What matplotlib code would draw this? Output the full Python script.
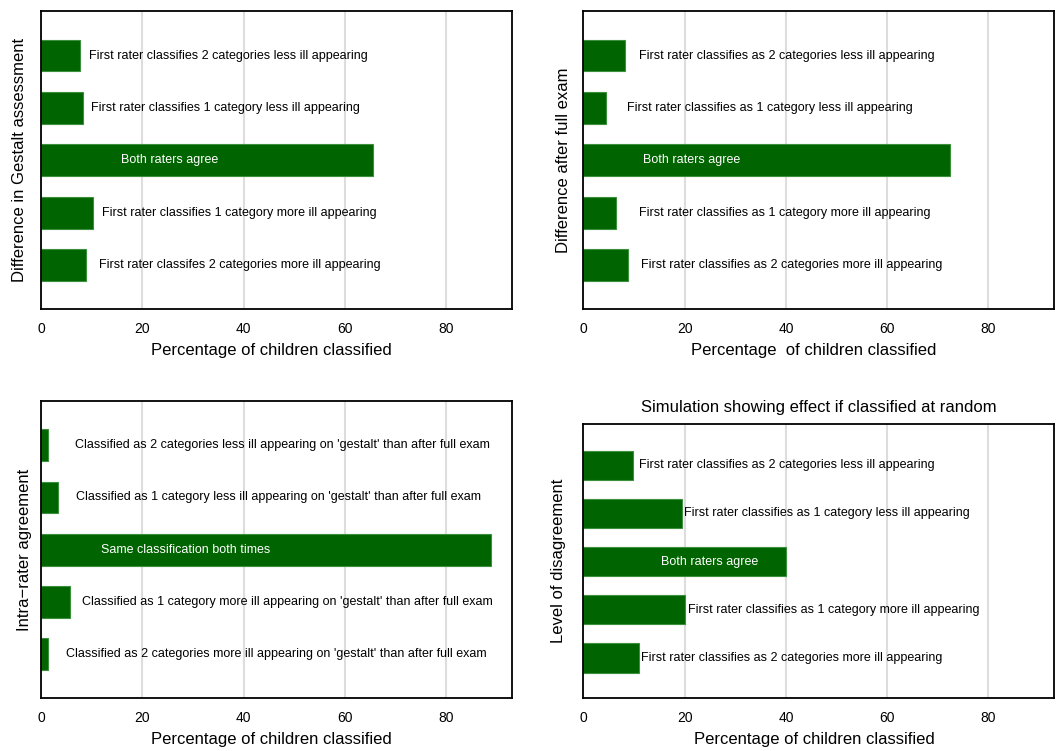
import matplotlib
matplotlib.use("Agg")
import matplotlib.pyplot as plt

plt.rcParams['font.family'] = ['Liberation Sans', 'DejaVu Sans']

# --- data (top bar first) ---
gestalt_labels = [
    "First rater classifies 2 categories less ill appearing",
    "First rater classifies 1 category less ill appearing",
    "Both raters agree",
    "First rater classifies 1 category more ill appearing",
    "First rater classifes 2 categories more ill appearing",
]
gestalt_values = [7.7, 8.3, 65.5, 10.2, 8.9]

fullexam_labels = [
    "First rater classifies as 2 categories less ill appearing",
    "First rater classifies as 1 category less ill appearing",
    "Both raters agree",
    "First rater classifies as 1 category more ill appearing",
    "First rater classifies as 2 categories more ill appearing",
]
fullexam_values = [8.3, 4.5, 72.5, 6.4, 8.9]

intra_labels = [
    "Classified as 2 categories less ill appearing on 'gestalt' than after full exam",
    "Classified as 1 category less ill appearing on 'gestalt' than after full exam",
    "Same classification both times",
    "Classified as 1 category more ill appearing on 'gestalt' than after full exam",
    "Classified as 2 categories more ill appearing on 'gestalt' than after full exam",
]
intra_values = [1.4, 3.3, 88.8, 5.8, 1.4]

random_labels = [
    "First rater classifies as 2 categories less ill appearing",
    "First rater classifies as 1 category less ill appearing",
    "Both raters agree",
    "First rater classifies as 1 category more ill appearing",
    "First rater classifies as 2 categories more ill appearing",
]
random_values = [9.9, 19.5, 40.1, 20.1, 11.0]

x_ticks = [0, 20, 40, 60, 80]

# --- layout / style ---
W, H = 1058, 751
BAR = "#006400"
EDGE = "#3c8f3c"
GRID = "#dddddd"

# where each bar's text starts (percentage units)
label_x = [
    [9.5, 9.9, 15.7, 12.1, 11.5],
    [10.9, 8.7, 11.8, 10.9, 11.3],
    [6.8, 7.0, 11.8, 8.0, 4.9],
    [10.9, 19.9, 15.3, 20.6, 11.3],
]

panels = [
    # (left, top, right, bottom) in pixels
    dict(box=(41, 11, 512, 309), ylabel="Difference in Gestalt assessment",
         xlabel="Percentage of children classified", yl_off=21,
         labels=gestalt_labels, values=gestalt_values, title=None),
    dict(box=(583.3, 11, 1054.3, 309), ylabel="Difference after full exam",
         xlabel="Percentage  of children classified", yl_off=19.5,
         labels=fullexam_labels, values=fullexam_values, title=None),
    dict(box=(41, 400.7, 512, 698.3), ylabel="Intra\u2212rater agreement",
         xlabel="Percentage of children classified", yl_off=17,
         labels=intra_labels, values=intra_values, title=None),
    dict(box=(583.3, 424.3, 1054.3, 698.3), ylabel="Level of disagreement",
         xlabel="Percentage of children classified", yl_off=24.5,
         labels=random_labels, values=random_values,
         title="Simulation showing effect if classified at random"),
]

fig = plt.figure(figsize=(W / 100, H / 100), dpi=100)

for i, p in enumerate(panels):
    l, t, r, b = p["box"]
    ax = fig.add_axes([l / W, 1 - b / H, (r - l) / W, (b - t) / H])
    n = len(p["values"])
    ypos = list(range(n, 0, -1))
    ax.barh(ypos, p["values"], height=0.61, color=BAR, edgecolor=EDGE,
            linewidth=0.8, zorder=2)
    for k, (y, txt) in enumerate(zip(ypos, p["labels"])):
        col = "white" if k == n // 2 else "black"
        ax.text(label_x[i][k], y, txt, ha="left", va="center",
                fontsize=9, color=col, zorder=3)
    ax.set_xlim(0, 93)
    ax.set_ylim(0.16, n + 0.85)
    ax.set_xticks(x_ticks)
    ax.set_yticks([])
    ax.tick_params(axis="x", length=0, pad=9.5, labelsize=10)
    ax.grid(axis="x", color=GRID, linewidth=1.5, zorder=0)
    ax.set_axisbelow(True)
    for s in ax.spines.values():
        s.set_linewidth(1.3)
        s.set_color("black")
    h_px = b - t
    w_px = r - l
    ax.set_xlabel(p["xlabel"], fontsize=12, va="center")
    ax.xaxis.set_label_coords(0.49, -41.5 / h_px)
    ax.set_ylabel(p["ylabel"], fontsize=12, va="center")
    ax.yaxis.set_label_coords(-p["yl_off"] / w_px, 0.5)
    if p["title"]:
        ax.set_title(p["title"], fontsize=12, pad=9)

fig.savefig("out.png", dpi=100, facecolor="white")
